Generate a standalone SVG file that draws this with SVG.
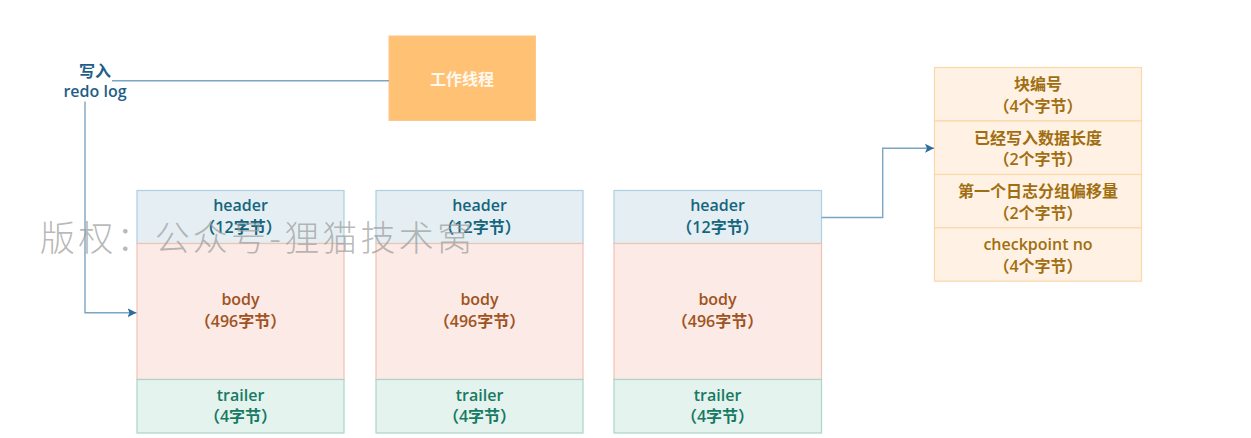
<svg xmlns="http://www.w3.org/2000/svg" width="1251" height="438" viewBox="0 0 1251 438">
<defs>
<style>
text{font-family:"Open Sans","Noto Sans CJK SC",sans-serif;font-size:16px;font-weight:600;text-anchor:middle}
.hd rect{fill:#E5EFF3;stroke:#ACD0DF;stroke-width:1.2}
.hd text{fill:#15667D}
.bd rect{fill:#FBEAE5;stroke:#F2C2B2;stroke-width:1.2}
.bd text{fill:#A0531F}
.tr rect{fill:#E5F3EE;stroke:#A9D6C7;stroke-width:1.2}
.tr text{fill:#177A64}
.fd rect{fill:#FFF2E4;stroke:#FAD8A8;stroke-width:1.2}
.fd text{fill:#A06E10}
.conn{fill:none;stroke:#7AA6C4;stroke-width:1.4}
.lbl{fill:#1F5E88}
.wm{font-family:"Noto Sans CJK SC",sans-serif;font-size:35px;font-weight:300;fill:#9a9a9a;fill-opacity:0.7;text-anchor:start}
</style>
<marker id="arr" markerWidth="10" markerHeight="10" refX="9" refY="5" orient="auto" markerUnits="userSpaceOnUse">
<path d="M0,0.5 L9,5 L0,9.5 L2,5 Z" fill="#2E6C9C"/>
</marker>
</defs>

<g id="worker">
<rect x="389" y="36" width="146.5" height="84.5" fill="#FFC174" stroke="#FFC68A" stroke-width="1"/>
<text x="462" y="85" fill="#FFF8EE">工作线程</text>
</g>

<g id="label-write">
<text class="lbl" x="95" y="77">写入</text>
<text class="lbl" x="95" y="97">redo log</text>
</g>

<g id="block1">
<g class="hd"><rect x="137" y="190.5" width="207" height="53"/><text x="240.5" y="211">header</text><text x="240.5" y="233">（12字节）</text></g>
<g class="bd"><rect x="137" y="243.5" width="207" height="136"/><text x="240.5" y="305">body</text><text x="240.5" y="327">（496字节）</text></g>
<g class="tr"><rect x="137" y="379.5" width="207" height="53.5"/><text x="240.5" y="400.5">trailer</text><text x="240.5" y="422">（4字节）</text></g>
</g>

<g id="block2">
<g class="hd"><rect x="376" y="190.5" width="207" height="53"/><text x="479.5" y="211">header</text><text x="479.5" y="233">（12字节）</text></g>
<g class="bd"><rect x="376" y="243.5" width="207" height="136"/><text x="479.5" y="305">body</text><text x="479.5" y="327">（496字节）</text></g>
<g class="tr"><rect x="376" y="379.5" width="207" height="53.5"/><text x="479.5" y="400.5">trailer</text><text x="479.5" y="422">（4字节）</text></g>
</g>

<g id="block3">
<g class="hd"><rect x="614" y="190.5" width="207.5" height="53"/><text x="717.5" y="211">header</text><text x="717.5" y="233">（12字节）</text></g>
<g class="bd"><rect x="614" y="243.5" width="207.5" height="136"/><text x="717.5" y="305">body</text><text x="717.5" y="327">（496字节）</text></g>
<g class="tr"><rect x="614" y="379.5" width="207.5" height="53.5"/><text x="717.5" y="400.5">trailer</text><text x="717.5" y="422">（4字节）</text></g>
</g>

<g id="header-fields" class="fd">
<rect x="934.5" y="67.5" width="207" height="53.5"/>
<text x="1038" y="90">块编号</text><text x="1038" y="111.5">（4个字节）</text>
<rect x="934.5" y="121" width="207" height="53.5"/>
<text x="1038" y="143.5">已经写入数据长度</text><text x="1038" y="165">（2个字节）</text>
<rect x="934.5" y="174.5" width="207" height="53.3"/>
<text x="1038" y="197">第一个日志分组偏移量</text><text x="1038" y="218.5">（2个字节）</text>
<rect x="934.5" y="227.8" width="207" height="53.4"/>
<text x="1038" y="250">checkpoint no</text><text x="1038" y="271.5">（4个字节）</text>
</g>

<g id="connectors">
<path class="conn" d="M389,80.7 H112"/>
<path class="conn" d="M85,101.5 V312.7 H136.5" marker-end="url(#arr)"/>
<path class="conn" d="M821.5,217.5 H882.7 V148.3 H934" marker-end="url(#arr)"/>
</g>

<text class="wm" x="40" y="251" textLength="432" lengthAdjust="spacing">版权：公众号-狸猫技术窝</text>
</svg>
